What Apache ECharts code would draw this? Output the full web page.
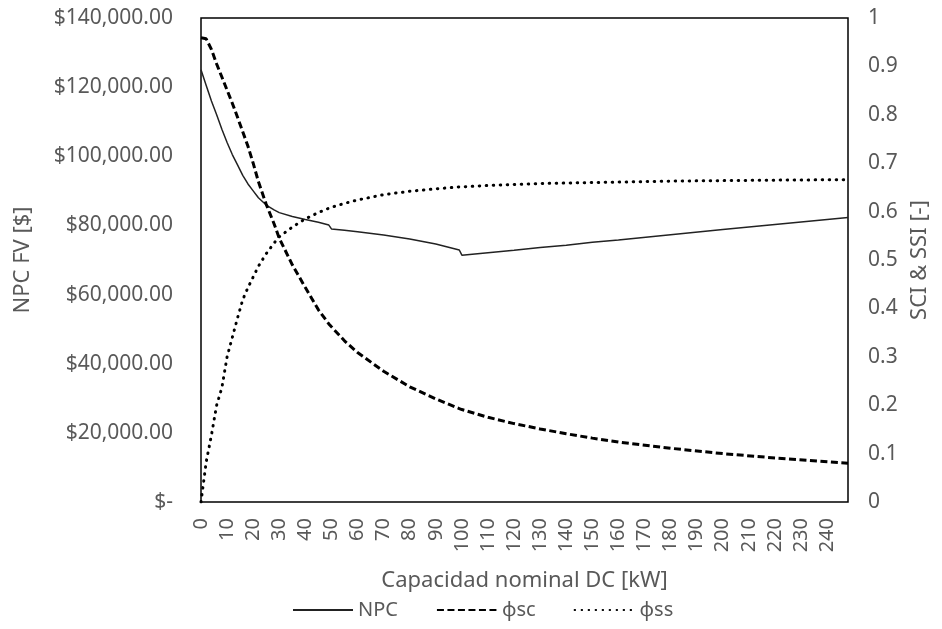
<!DOCTYPE html>
<html>
<head>
<meta charset="utf-8">
<script src="https://cdn.jsdelivr.net/npm/echarts@6/dist/echarts.min.js"></script>
<style>
html,body{margin:0;padding:0;background:#fff;}
#main{width:942px;height:629px;}
</style>
</head>
<body>
<div id="main"></div>
<script>
// capacidad nominal DC [kW]
var kw  = [0, 2, 4, 6, 8, 10, 12, 14, 16, 18, 20, 22, 25, 28, 30, 35, 40, 45, 49, 50, 55, 60, 70, 80, 90, 99, 100, 110, 120, 130, 140, 150, 160, 180, 200, 220, 248];
// NPC FV [$]
var npc = [125000, 120500, 116000, 112000, 107800, 104000, 100500, 97500, 94500, 92000, 90000, 88000, 85900, 84500, 83700, 82600, 81700, 80900, 80100, 79000, 78600, 78200, 77200, 76100, 74600, 72900, 71400, 72100, 72800, 73600, 74300, 75100, 75800, 77300, 78800, 80300, 82300];
// φsc
var psc = [0.959, 0.957, 0.935, 0.905, 0.878, 0.851, 0.824, 0.795, 0.765, 0.735, 0.700, 0.662, 0.615, 0.575, 0.545, 0.490, 0.443, 0.397, 0.368, 0.362, 0.333, 0.309, 0.270, 0.238, 0.213, 0.193, 0.191, 0.175, 0.162, 0.151, 0.141, 0.132, 0.124, 0.111, 0.100, 0.091, 0.080];
// φss
var pss = [0.0, 0.083, 0.138, 0.200, 0.236, 0.300, 0.340, 0.380, 0.418, 0.443, 0.465, 0.487, 0.513, 0.535, 0.548, 0.568, 0.585, 0.598, 0.607, 0.609, 0.617, 0.624, 0.635, 0.642, 0.647, 0.651, 0.651, 0.654, 0.656, 0.658, 0.659, 0.660, 0.661, 0.663, 0.664, 0.665, 0.666];

function pares(ys){
	var out = [];
	for(var i=0;i<kw.length;i++){
		out.push([kw[i], ys[i]]);
	}
	return out;
}

function dinero(v){
	if(v === 0) return '$-';
	return '$' + v.toLocaleString('en-US', {minimumFractionDigits:2, maximumFractionDigits:2});
}

var fuente = 'Noto Sans';
var gris = '#595959';

var myChart = echarts.init(document.getElementById('main'));

var option = {
	animation: false,
	textStyle: {fontFamily: fuente},
	grid: {
		left: 201, right: 94, top: 18, bottom: 127,
		containLabel: false,
		outerBoundsMode: 'none',
		show: true, borderColor: '#000', borderWidth: 1.5
	},
	legend: {
		bottom: 4,
		left: 287,
		itemWidth: 60,
		itemHeight: 12,
		itemGap: 38,
		itemStyle: {opacity: 0},
		textStyle: {color: gris, fontSize: 20, fontFamily: fuente},
		data: ['NPC', 'φsc', 'φss']
	},
	xAxis: {
		type: 'value',
		min: 0, max: 248, interval: 10,
		name: 'Capacidad nominal DC [kW]',
		nameLocation: 'middle',
		nameGap: 68,
		nameTextStyle: {color: gris, fontSize: 22, fontFamily: fuente},
		axisLine: {show: false},
		axisTick: {show: false},
		splitLine: {show: false},
		axisLabel: {rotate: 90, margin: 16, color: gris, fontSize: 20, fontFamily: fuente, showMaxLabel: false}
	},
	yAxis: [{
		type: 'value',
		min: 0, max: 140000, interval: 20000,
		name: 'NPC FV [$]',
		nameLocation: 'middle',
		nameRotate: 90,
		nameGap: 167,
		nameTextStyle: {color: gris, fontSize: 22, fontFamily: fuente},
		axisLine: {show: false},
		axisTick: {show: false},
		splitLine: {show: false},
		axisLabel: {margin: 28, color: gris, fontSize: 21, fontFamily: fuente, formatter: dinero}
	}, {
		type: 'value',
		position: 'right',
		min: 0, max: 1, interval: 0.1,
		name: 'SCI & SSI [-]',
		nameLocation: 'middle',
		nameRotate: 90,
		nameGap: 58,
		nameTextStyle: {color: gris, fontSize: 22, fontFamily: fuente},
		axisLine: {show: false},
		axisTick: {show: false},
		splitLine: {show: false},
		axisLabel: {margin: 20, color: gris, fontSize: 21, fontFamily: fuente}
	}],
	series: [{
		name: 'NPC',
		type: 'line',
		yAxisIndex: 0,
		symbol: 'none',
		data: pares(npc),
		lineStyle: {color: '#222', width: 1.5},
		itemStyle: {color: '#222'}
	}, {
		name: 'φsc',
		type: 'line',
		yAxisIndex: 1,
		symbol: 'none',
		data: pares(psc),
		lineStyle: {color: '#000', width: 3, type: [7, 3.5]},
		itemStyle: {color: '#000'}
	}, {
		name: 'φss',
		type: 'line',
		yAxisIndex: 1,
		symbol: 'none',
		data: pares(pss),
		lineStyle: {color: '#000', width: 3, type: [0.5, 6.5], cap: 'round'},
		itemStyle: {color: '#000'}
	}]
};

myChart.setOption(option);
</script>
</body>
</html>
